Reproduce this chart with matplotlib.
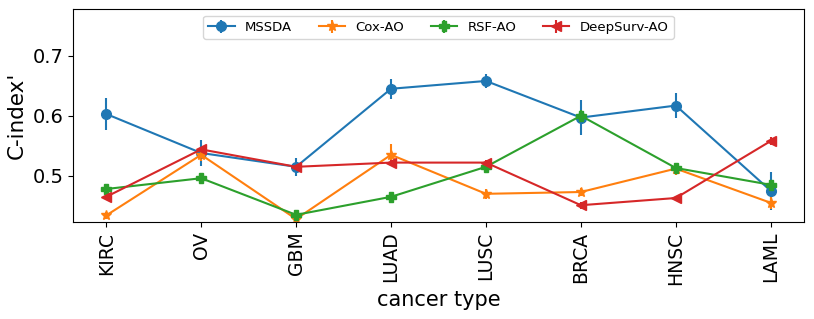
import numpy as np
import matplotlib
matplotlib.use("Agg")
import matplotlib.pyplot as plt

CANCERS = ["KIRC", "OV", "GBM", "LUAD", "LUSC", "BRCA", "HNSC", "LAML"]

mssda     = [0.603, 0.538, 0.515, 0.645, 0.658, 0.597, 0.617, 0.475]
mssda_err = [0.027, 0.022, 0.015, 0.017, 0.012, 0.029, 0.021, 0.032]
cox       = [0.434, 0.535, 0.428, 0.535, 0.470, 0.473, 0.512, 0.455]
cox_err   = [0.006, 0.010, 0.006, 0.018, 0.008, 0.006, 0.010, 0.010]
rsf       = [0.478, 0.496, 0.435, 0.465, 0.515, 0.600, 0.513, 0.485]
rsf_err   = [0.006, 0.006, 0.006, 0.006, 0.006, 0.010, 0.008, 0.007]
deep      = [0.465, 0.544, 0.515, 0.522, 0.522, 0.451, 0.463, 0.558]
deep_err  = [0.004, 0.004, 0.004, 0.004, 0.004, 0.006, 0.003, 0.006]

fig = plt.figure(figsize=(8.14, 3.19), dpi=100)
ax = fig.add_axes([0.0897, 0.304, 0.898, 0.668])
x = np.arange(len(CANCERS))
series = [("MSSDA", mssda, mssda_err, "o", "#1f77b4"),
          ("Cox-AO", cox, cox_err, "*", "#ff7f0e"),
          ("RSF-AO", rsf, rsf_err, "P", "#2ca02c"),
          ("DeepSurv-AO", deep, deep_err, "<", "#d62728")]
for name, y, e, m, c in series:
    ax.errorbar(x, y, yerr=e, fmt="-" + m, color=c, lw=1.5, ms=7, label=name)

ax.set_xticks(x)
ax.set_xticklabels(CANCERS, rotation=90, fontsize=13.5)
ax.set_yticks([0.5, 0.6, 0.7])
ax.tick_params(axis="y", labelsize=14)
ax.set_xlim(-0.35, 7.35)
ax.set_ylim(0.423, 0.778)
ax.set_xlabel("cancer type", fontsize=15)
ax.set_ylabel("C-index'", fontsize=15.5)
ax.legend(loc="upper center", ncol=4, fontsize=9.5, bbox_to_anchor=(0.5, 1.0))
fig.savefig("out.png", dpi=100)
